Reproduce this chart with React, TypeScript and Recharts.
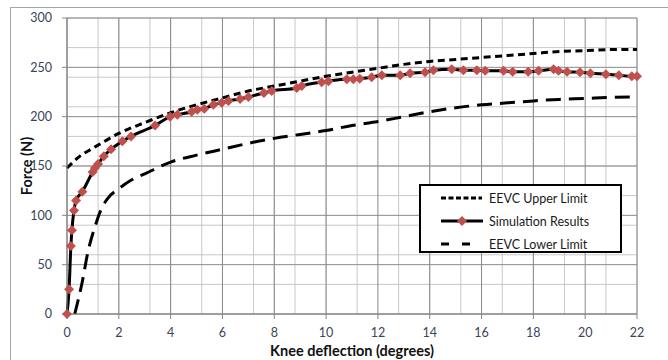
import React from 'react';
import { ComposedChart, Line, XAxis, YAxis, CartesianGrid, Legend } from 'recharts';

const xTicks = [0, 2, 4, 6, 8, 10, 12, 14, 16, 18, 20, 22];
const yTicks = [0, 50, 100, 150, 200, 250, 300];
const xMinorGrid = Array.from({ length: 56 }, (_, i) => Math.round(i * 0.4 * 10) / 10);
const yMinorGrid = Array.from({ length: 31 }, (_, i) => i * 10);

const upperX = [0, 0.5, 1, 2, 3, 4, 5, 6, 7, 8, 9, 10, 11, 12, 13, 14, 15, 16, 17, 18, 19, 20, 21, 22];
const upperY = [148, 160, 168, 183, 194, 204, 212, 219, 226, 231, 236, 241, 245, 249, 253, 256, 258, 260, 262, 264, 266, 267, 268, 268];

const lowerX = [0.3, 0.6, 0.8, 1.1, 1.3, 1.6, 2, 2.5, 3, 4, 5, 6, 7, 8, 9, 10, 11, 12, 13, 14, 15, 16, 17, 18, 19, 20, 21, 22];
const lowerY = [0, 34, 62, 90, 105, 118, 127, 136, 142, 154, 161, 167, 173, 178, 182, 186, 191, 195, 200, 205, 209, 212, 214, 216, 217.5, 218.5, 219.5, 220];

const simX = [0, 0.08, 0.15, 0.19, 0.27, 0.35, 0.59, 0.99, 1.08, 1.2, 1.42, 1.7, 2.14, 2.47, 3.4, 3.98, 4.26, 4.81, 5.03, 5.3, 5.65, 5.97, 6.23, 6.68, 7.0, 7.6, 7.9, 8.87, 9.06, 9.83, 10.09, 10.8, 11.05, 11.3, 11.76, 12.15, 12.86, 13.24, 13.82, 14.14, 14.85, 15.3, 15.82, 16.14, 16.85, 17.2, 17.8, 18.2, 18.78, 18.97, 19.3, 19.8, 20.2, 20.8, 21.3, 21.8, 22.0];
const simY = [0, 25, 69, 85, 105, 115, 124, 144, 148, 152, 160, 167, 175, 180, 191, 200, 202, 205, 207, 208, 212, 214, 216, 218, 220, 224, 226, 229, 231, 235, 236, 238, 238, 238.5, 240, 242, 242, 244, 245, 247, 248, 247, 247, 246.5, 246.5, 245.5, 245.5, 246.5, 248, 246.5, 245.5, 245, 244, 243, 242, 241, 241];

const upperData = upperX.map((x, i) => ({ x, y: upperY[i] }));
const lowerData = lowerX.map((x, i) => ({ x, y: lowerY[i] }));
const simData = simX.map((x, i) => ({ x, y: simY[i] }));

const seriesNames = ['EEVC Upper Limit', 'Simulation Results', 'EEVC Lower Limit'];

const RED = '#c0504d';

const Diamond = (props: any) => {
  const { cx, cy, index } = props;
  if (cx == null || cy == null) return null;
  const r = 5;
  return <path key={`d${index}`} d={`M${cx},${cy - r}L${cx + r},${cy}L${cx},${cy + r}L${cx - r},${cy}Z`} fill={RED} stroke="none" />;
};

const LegendBox = () => (
  <div style={{ width: 199, height: 65, border: '2px solid #000', background: '#fff', fontFamily: 'Lato, "Open Sans", sans-serif', fontSize: 12.5, color: '#1a1a1a', position: 'relative' }}>
    {seriesNames.map((n, i) => (
      <div key={n} style={{ position: 'absolute', left: 0, top: 3 + i * 23, height: 18, display: 'flex', alignItems: 'center' }}>
        <svg width={68} height={18} style={{ display: 'block' }}>
          {i === 0 && <line x1={20} y1={9} x2={61} y2={9} stroke="#000" strokeWidth={3} strokeDasharray="5 2.5" />}
          {i === 1 && (
            <g>
              <line x1={20} y1={9} x2={62} y2={9} stroke="#000" strokeWidth={3} />
              <path d="M41,4L46,9L41,14L36,9Z" fill={RED} />
            </g>
          )}
          {i === 2 && <line x1={20} y1={9} x2={61} y2={9} stroke="#000" strokeWidth={3} strokeDasharray="8 13" />}
        </svg>
        <span style={{ whiteSpace: 'nowrap' }}>{n}</span>
      </div>
    ))}
  </div>
);

const tickStyle = { fill: '#3a4558', fontSize: 12.5, fontFamily: 'Lato, "Open Sans", sans-serif' };

export default function App() {
  return (
    <div style={{ position: 'absolute', left: 0, top: 0, width: 668, height: 360, overflow: 'hidden', background: '#fff' }}>
      <div style={{ position: 'absolute', left: 10, top: 7, width: 700, height: 400, border: '1.5px solid #a6a6a6' }} />
      <ComposedChart width={668} height={360} margin={{ top: 18, right: 31, bottom: 0, left: 0 }} style={{ position: 'absolute', left: 0, top: 0 }}>
        <CartesianGrid stroke="#c8c8c8" strokeWidth={1} verticalValues={xMinorGrid} horizontalValues={yMinorGrid} />
        <CartesianGrid stroke="#8a8a8a" strokeWidth={1} verticalValues={xTicks} horizontalValues={yTicks} />
        <XAxis
          dataKey="x"
          type="number"
          domain={[0, 22]}
          ticks={xTicks}
          allowDuplicatedCategory={false}
          height={46}
          tickSize={5}
          tickMargin={9}
          stroke="#868686"
          tick={tickStyle}
          label={{ value: 'Knee deflection (degrees)', position: 'center', dy: 14, style: { fill: '#111', fontSize: 14.5, fontWeight: 700, fontFamily: 'Lato, "Open Sans", sans-serif' } }}
        />
        <YAxis
          dataKey="y"
          type="number"
          domain={[0, 300]}
          ticks={yTicks}
          width={67}
          tickSize={5}
          tickMargin={10}
          stroke="#868686"
          tick={tickStyle}
          label={{ value: 'Force (N)', angle: -90, position: 'center', dx: -7, style: { fill: '#111', fontSize: 14.5, fontWeight: 700, fontFamily: 'Lato, "Open Sans", sans-serif', textAnchor: 'middle' } }}
        />
        <Legend
          layout="horizontal"
          verticalAlign="middle"
          align="center"
          wrapperStyle={{ left: 419, top: 184, width: 203, height: 69 }}
          content={() => <LegendBox />}
        />
        <Line data={upperData} dataKey="y" name={seriesNames[0]} type="monotone" stroke="#000" strokeWidth={3} strokeDasharray="7 4.5" dot={false} activeDot={false} isAnimationActive={false} />
        <Line data={lowerData} dataKey="y" name={seriesNames[2]} type="monotone" stroke="#000" strokeWidth={3} strokeDasharray="15 8" dot={false} activeDot={false} isAnimationActive={false} />
        <Line data={simData} dataKey="y" name={seriesNames[1]} type="monotone" stroke="#000" strokeWidth={3} dot={Diamond} activeDot={false} isAnimationActive={false} />
      </ComposedChart>
    </div>
  );
}
